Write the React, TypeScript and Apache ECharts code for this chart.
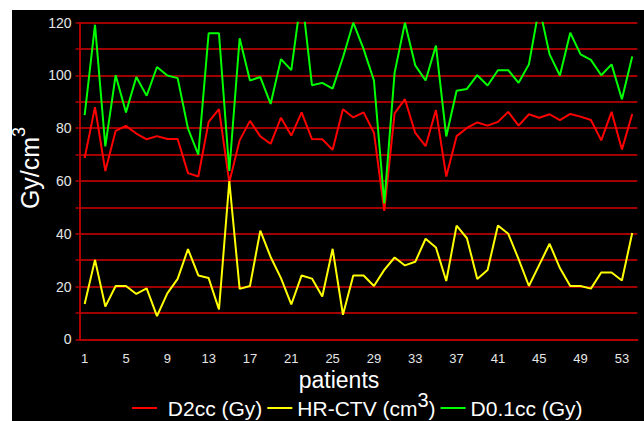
import React, { useEffect, useRef } from "react";
import * as echarts from "echarts";

const patients: string[] = [
  "1","2","3","4","5","6","7","8","9","10","11","12","13","14","15","16","17","18",
  "19","20","21","22","23","24","25","26","27","28","29","30","31","32","33","34","35","36",
  "37","38","39","40","41","42","43","44","45","46","47","48","49","50","51","52","53","54",
];

const d2cc: number[] = [
  68.7, 88, 63.8, 79, 80.9, 78, 75.8, 77, 75.9, 75.9, 63, 61.7, 82.4,
  87.2, 59.5, 75.4, 82.8, 76.9, 74.1, 84, 77.2, 86, 75.9, 75.8, 71.8, 87.2, 84.1,
  86, 78.3, 48.7, 85.6, 91, 78.2, 73.2, 86.9, 61.7, 77, 80.1, 82.2, 81, 82.4,
  86.2, 81, 85.3, 84, 85.3, 83.1, 85.4, 84.4, 83.1, 75.4, 86.2, 71.9, 85.4,
];

const hrctv: number[] = [
  13.4, 30.1, 12.4, 20.2, 20.2, 17.2, 19.3, 8.8, 17.4, 22.9, 34.2, 24.2, 23.2,
  11.3, 60, 19.1, 20.2, 41.2, 31.2, 23.2, 13.2, 24.2, 23, 16.2, 34.3, 9.3, 24.2,
  24.2, 20.2, 26.3, 31, 28, 29.4, 38.1, 34.8, 22.1, 43.1, 38.3, 22.9, 26.3, 43.1,
  40, 30.4, 20.2, 28.2, 36.2, 27, 20.2, 20.2, 19.2, 25.3, 25.3, 22.3, 40.3,
];

const d01cc: number[] = [
  85, 119.2, 73.1, 100.1, 86, 99.4, 92.3, 103.2, 100, 99, 79.9, 70, 116,
  116, 63.8, 114.1, 98.1, 99.4, 89.2, 106.2, 102, 131, 96.3, 97.2, 95, 106.8, 120,
  110, 98.1, 51.5, 101, 120, 103.8, 98.1, 111.3, 76.9, 94.2, 94.9, 100.1, 96.2, 102,
  102, 97.2, 104.2, 126, 108, 100, 116.2, 108, 105.9, 100.1, 104.2, 91, 107.2,
];

const seriesNames = ["D2cc (Gy)", "HR-CTV (cm3)", "D0.1cc (Gy)"];
const seriesColors = ["#ff0000", "#ffff00", "#00ff00"];

const FONT = "'Liberation Sans', Arial, sans-serif";

export default function App() {
  const ref = useRef<HTMLDivElement>(null);

  useEffect(() => {
    if (!ref.current) return;
    const chart = echarts.init(ref.current, undefined, { renderer: "svg" });
    const option: any = {
      animation: false,
      backgroundColor: "#ffffff",
      textStyle: { fontFamily: FONT },
      graphic: [
        {
          type: "rect",
          z: -100,
          silent: true,
          shape: { x: 12, y: 10, width: 632, height: 411 },
          style: { fill: "#000000" },
        },
        {
          type: "text",
          x: 30,
          y: 168,
          rotation: Math.PI / 2,
          z: 10,
          style: {
            text: "{a|Gy/cm}{s|3}",
            align: "center",
            verticalAlign: "middle",
            fill: "#ffffff",
            font: "25px " + FONT,
            rich: {
              a: { fill: "#ffffff", fontSize: 25, fontFamily: FONT, lineHeight: 28 },
              s: { fill: "#ffffff", fontSize: 18, fontFamily: FONT, lineHeight: 6, height: 6, verticalAlign: "top" },
            },
          },
        },
        {
          type: "text",
          x: 339,
          y: 380,
          z: 10,
          style: {
            text: "patients",
            align: "center",
            verticalAlign: "middle",
            fill: "#ffffff",
            font: "23px " + FONT,
          },
        },
      ],
      legend: {
        left: 132,
        top: 390,
        padding: 0,
        itemGap: 5,
        itemWidth: 25,
        itemHeight: 2,
        icon: "rect",
        data: seriesNames,
        formatter: (name: string) => {
          if (name === "HR-CTV (cm3)") return "{a|HR-CTV (cm}{s|3}{a|)}";
          if (name === "D2cc (Gy)") return "{a| D2cc (Gy)}";
          return "{a|" + name + "}";
        },
        textStyle: {
          color: "#ffffff",
          fontSize: 21,
          fontFamily: FONT,
          rich: {
            a: { color: "#ffffff", fontSize: 21, fontFamily: FONT, lineHeight: 24 },
            s: { color: "#ffffff", fontSize: 20, fontFamily: FONT, lineHeight: 8, height: 8, verticalAlign: "top" },
          },
        },
      },
      grid: { left: 79.5, right: 6.6, top: 22.7, bottom: 81.7, containLabel: false },
      xAxis: {
        type: "category",
        data: patients,
        boundaryGap: true,
        axisLine: { show: true, lineStyle: { color: "#b00000", width: 2 } },
        axisTick: { show: false },
        axisLabel: {
          interval: 3,
          color: "#e6e6e6",
          fontSize: 13,
          fontFamily: FONT,
          margin: 12,
          lineHeight: 14,
        },
        splitLine: { show: false },
      },
      yAxis: {
        type: "value",
        min: 0,
        max: 120,
        interval: 10,
        axisLine: { show: true, lineStyle: { color: "#b00000", width: 2 } },
        axisTick: { show: true, length: 4, lineStyle: { color: "#b00000", width: 1.5 } },
        axisLabel: {
          color: "#e6e6e6",
          fontSize: 14,
          fontFamily: FONT,
          margin: 8,
          formatter: (v: number) => (v % 20 === 0 ? String(v) : ""),
        },
        splitLine: { show: true, lineStyle: { color: "#a00000", width: 2 } },
      },
      series: [d2cc, hrctv, d01cc].map((data, i) => ({
        name: seriesNames[i],
        type: "line",
        data,
        showSymbol: false,
        symbol: "none",
        clip: true,
        color: seriesColors[i],
        lineStyle: { color: seriesColors[i], width: 2 },
        z: 2 + i,
      })),
    };
    chart.setOption(option);
    return () => chart.dispose();
  }, []);

  return (
    <div
      ref={ref}
      style={{ position: "fixed", left: 0, top: 0, width: 644, height: 421, background: "#ffffff" }}
    />
  );
}
